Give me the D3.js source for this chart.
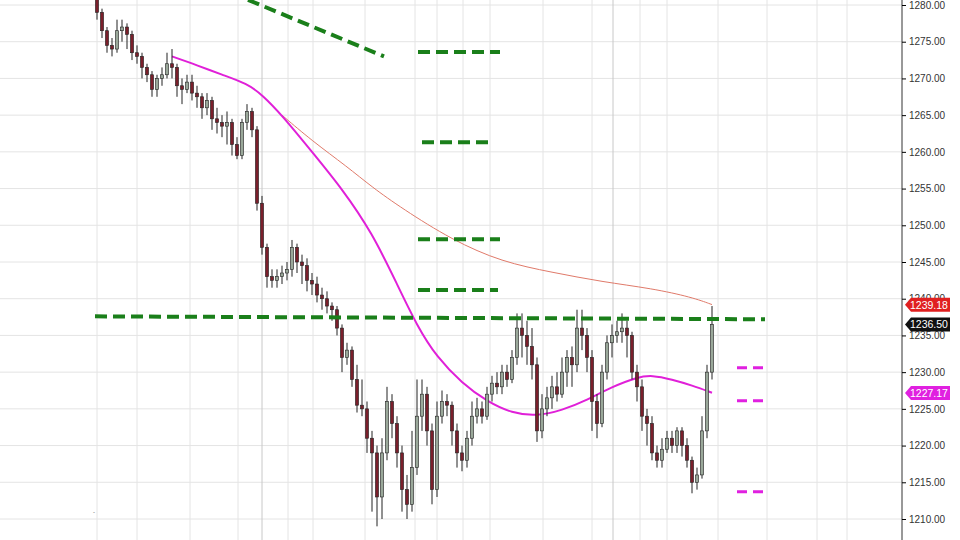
<!DOCTYPE html>
<html><head><meta charset="utf-8">
<script src="https://cdn.jsdelivr.net/npm/d3@7"></script>
<style>body{margin:0;background:#fff}svg{display:block;font-family:"Liberation Sans",Arial,sans-serif}</style>
</head><body><svg id="c" width="960" height="540"></svg>
<script>
const opens=[1281,1279,1276.5,1274.5,1274,1276.5,1277,1276,1273.5,1273,1271.5,1270.5,1268.5,1270,1270.5,1272,1271.5,1269,1268.5,1269.5,1268,1267.5,1266,1267,1264.5,1264,1263.5,1264,1261,1259.5,1264,1265.5,1263,1253,1247,1243,1242.5,1243,1243.5,1244,1247,1245,1244.5,1242.5,1242,1240.5,1240,1239,1238.5,1236,1232,1233,1229,1225.5,1225,1221,1219,1213,1219,1226,1223,1219,1214,1212,1217,1224,1227,1222,1214,1224,1226,1225.5,1222,1219,1218,1221,1224,1225,1224,1227,1228.5,1228,1230,1229,1232,1236,1235,1233.5,1231,1222,1225,1226.5,1228,1227,1230,1232,1231,1236,1235,1232,1226,1223,1230,1234,1235,1235.5,1236,1235,1230,1228,1224,1223,1219,1218,1219.5,1221,1220,1222,1220,1218,1215,1216,1222,1230];
const closes=[1279,1276.5,1274.5,1274,1276.5,1277,1276,1273.5,1273,1271.5,1270.5,1268.5,1270,1270.5,1272,1271.5,1269,1268.5,1269.5,1268,1267.5,1266,1267,1264.5,1264,1263.5,1264,1261,1259.5,1264,1265.5,1263,1253,1247,1243,1242.5,1243,1243.5,1244,1247,1245,1244.5,1242.5,1242,1240.5,1240,1239,1238.5,1236,1232,1233,1229,1225.5,1225,1221,1219,1213,1219,1226,1223,1219,1214,1212,1217,1224,1227,1222,1214,1224,1226,1225.5,1222,1219,1218,1221,1224,1225,1224,1227,1228.5,1228,1230,1229,1232,1236,1235,1233.5,1231,1222,1225,1226.5,1228,1227,1230,1232,1231,1236,1235,1232,1226,1223,1230,1234,1235,1235.5,1236,1235,1230,1228,1224,1223,1219,1218,1219.5,1221,1220,1222,1220,1218,1215,1216,1222,1230,1236.5];
const highs=[1282,1279.5,1277,1275.5,1278,1278,1277.5,1276.5,1274.5,1273.5,1272,1271,1270.5,1271.5,1273.5,1274,1272,1270,1270.5,1270.5,1269,1268,1268,1267.5,1266,1265,1265.5,1264.5,1262,1264.5,1266.5,1266,1263.5,1254,1247.5,1244,1244,1244.5,1245,1248,1247.5,1246,1245.5,1243.5,1243,1241.5,1241,1239.5,1239,1236.5,1234,1233.5,1231,1229,1226,1222,1220,1221,1228,1227,1224,1220,1216,1222,1229,1229,1228,1223,1226,1227.5,1227,1226,1223,1220,1222,1226,1226.5,1226,1228,1229.5,1230,1231,1231,1233,1238,1238,1237,1236,1232,1227,1228,1229.5,1230,1232,1233,1233.5,1238.5,1238.5,1236,1233,1227,1231,1235,1236.5,1237,1238,1237,1235.5,1231,1229,1225,1224,1220,1221,1222,1222,1222.5,1222.5,1221,1218.5,1217,1224,1231,1239];
const lows=[1278,1275.5,1273.5,1273,1273.5,1275,1274,1272.5,1272,1270,1269.5,1267.5,1267.5,1269,1270,1270,1267.5,1266.5,1268,1267,1266,1264.5,1265,1263,1262.5,1262,1261,1259.5,1259,1259,1263,1262,1252,1246,1241.5,1241.5,1241.5,1242,1242.5,1243,1243.5,1242,1241,1240.5,1239.5,1238.5,1238,1237,1235,1230,1231,1228,1224.5,1224,1219,1211,1209,1210,1218,1221,1217,1211,1210,1211,1216,1222,1220,1212,1213,1223,1224,1220,1217,1216.5,1217,1220,1223,1223,1223.5,1226,1227,1227,1228,1228.5,1231,1232,1231,1229,1220.5,1221,1224,1225,1226,1226.5,1228,1228,1230,1233,1230,1222,1221,1222.5,1229,1232,1234,1234,1232,1229,1226,1222,1220,1218,1217,1217,1219,1219,1219,1218.5,1217,1213.5,1214,1215.5,1221,1229];
const gridIdx=[0,8,18.6,28.2,33,38.2,43.2,53.6,63.6,68,73.2,78.6,89.2,99,103.2,108.6,114,124.2,134,144,150];
const dayIdx=[33,103.2];
const maFast=[[15,1273],[20,1271.8],[25,1270.5],[30,1269.3],[33,1267.8],[37,1265],[43,1260],[49,1255],[55,1249],[60,1242],[64,1236.3],[68,1232],[73,1228.5],[78,1226],[83,1224.4],[88,1224],[93,1224.8],[98,1226.2],[103,1228],[108,1229.3],[111,1229.6],[115,1229],[119,1228.2],[123,1227.2]];
const maSlow=[[37,1265],[43,1261.5],[50,1258],[55,1255.2],[61,1252.3],[71,1248],[81,1245],[91,1243.6],[101,1242.3],[111,1241.4],[119,1240.2],[123,1239.2]];
const greenLines=[[30.2,1280.7,57.4,1273],[64.2,1273.6,80.6,1273.6],[65,1261.3,79.4,1261.3],[64.2,1248.1,80.6,1248.1],[64.2,1241.2,80.2,1241.2],[-0.4,1237.6,133.6,1237.2]];
const magentaLines=[[128,1230.6,133.2,1230.6],[128,1226.1,133.2,1226.1],[128,1213.7,133.2,1213.7]];
const tickVals=[1210,1215,1220,1225,1230,1235,1240,1245,1250,1255,1260,1265,1270,1275,1280];
const flags=[["1239.18",1239.18,"#e02020"],["1236.50",1236.5,"#111"],["1227.17",1227.17,"#e020e0"]];

const svg=d3.select("#c");
const x=d3.scaleLinear().domain([0,123]).range([97,712]);
const y=d3.scaleLinear().domain([1210,1280]).range([519,5]);
const axX=902;
// grid
svg.append("g").selectAll("line").data(tickVals).join("line")
 .attr("x1",0).attr("x2",axX).attr("y1",d=>y(d)).attr("y2",d=>y(d)).attr("stroke","#e4e4e4");
svg.append("g").selectAll("line").data(gridIdx).join("line")
 .attr("x1",d=>x(d)).attr("x2",d=>x(d)).attr("y1",0).attr("y2",540)
 .attr("stroke",d=>dayIdx.includes(d)?"#c8c8c8":"#e4e4e4");
// axis
const ax=svg.append("g").attr("transform",`translate(${axX},0)`)
 .call(d3.axisRight(y).tickValues(tickVals).tickFormat(d3.format(".2f")).tickSize(4).tickPadding(3));
ax.select(".domain").attr("stroke","#333").attr("d","M0,0V540");
ax.selectAll("text").attr("font-size",10).attr("fill","#333");
// MAs
const line=d3.line().x(d=>x(d[0])).y(d=>y(d[1])).curve(d3.curveBasis);
svg.append("path").attr("d",line(maSlow)).attr("fill","none").attr("stroke","#e07a6a").attr("stroke-width",1);
svg.append("path").attr("d",line(maFast)).attr("fill","none").attr("stroke","#e020d8").attr("stroke-width",2);
// candles
const g=svg.append("g");
closes.forEach((c,i)=>{
 const o=opens[i],up=c>=o,cx=x(i);
 g.append("line").attr("x1",cx).attr("x2",cx).attr("y1",y(highs[i])).attr("y2",y(lows[i])).attr("stroke","#222");
 g.append("rect").attr("x",cx-1.6).attr("width",3.2).attr("y",y(Math.max(o,c))).attr("height",Math.max(1,Math.abs(y(o)-y(c))))
  .attr("fill",up?"#9aa89a":"#7a1f2b").attr("stroke","#222").attr("stroke-width",0.6);
});
// dashed lines
svg.append("g").selectAll("line").data(greenLines).join("line")
 .attr("x1",d=>x(d[0])).attr("y1",d=>y(d[1])).attr("x2",d=>x(d[2])).attr("y2",d=>y(d[3]))
 .attr("stroke","#1a7f1a").attr("stroke-width",4).attr("stroke-dasharray","12,6");
svg.append("g").selectAll("line").data(magentaLines).join("line")
 .attr("x1",d=>x(d[0])).attr("y1",d=>y(d[1])).attr("x2",d=>x(d[2])).attr("y2",d=>y(d[3]))
 .attr("stroke","#e020e0").attr("stroke-width",3).attr("stroke-dasharray","10,6");
// flags
flags.forEach(([t,v,col])=>{
 const yy=y(v);
 svg.append("path").attr("d",`M${axX+3},${yy}L${axX+9},${yy-7}H950V${yy+7}H${axX+9}Z`).attr("fill",col);
 svg.append("text").attr("x",910).attr("y",yy+4).attr("font-size",10.5).attr("fill","#fff").text(t);
});
svg.append("text").attr("x",93).attr("y",514).attr("font-size",6).attr("fill","#555").text("-");
</script></body></html>
